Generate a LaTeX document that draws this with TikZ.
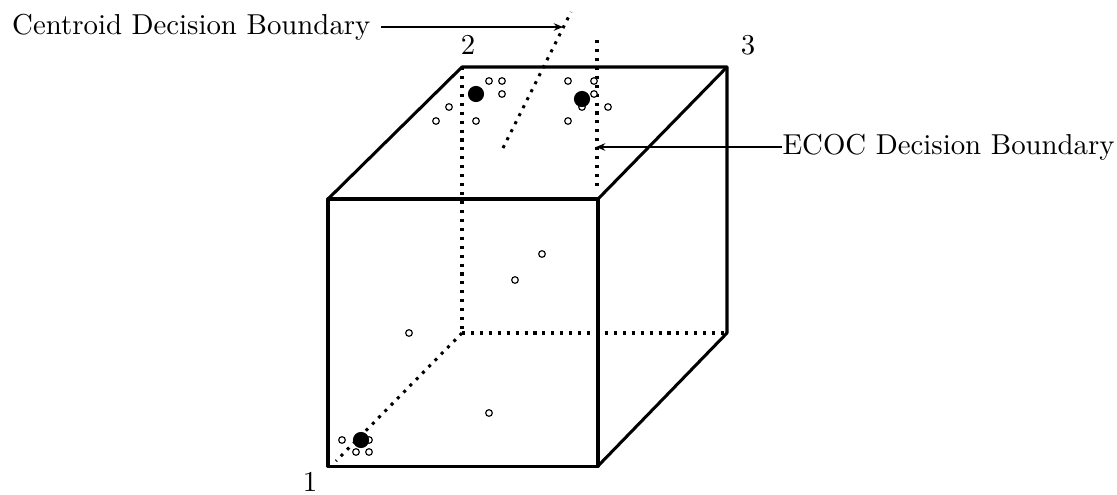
\documentclass[tikz,border=0pt]{standalone}
\usetikzlibrary{arrows.meta}
\begin{document}
\begin{tikzpicture}[x=0.347pt,y=-0.347pt,
  edge/.style={line width=1.05pt,line cap=round,line join=round},
  hidden/.style={line width=1.05pt,line cap=butt,dash pattern=on 1.05pt off 2.05pt},
  pointer/.style={line width=1pt,-{Stealth[length=3.2pt,width=2.6pt]}},
  sample/.style={circle,draw,line width=0.4pt,fill=white,inner sep=0pt,minimum size=2.3pt},
  centroid/.style={circle,fill=black,inner sep=0pt,minimum size=5.6pt},
  lbl/.style={font=\fontsize{10}{12}\selectfont,inner sep=0pt}]
\useasboundingbox (0,0) rectangle (1117,494);
% cube corners
\coordinate (f1) at (328,466);
\coordinate (f2) at (598,466);
\coordinate (f3) at (598,199);
\coordinate (f4) at (328,199);
\coordinate (b1) at (462,333);
\coordinate (b2) at (727,333);
\coordinate (b3) at (727,67);
\coordinate (b4) at (462,67);
% hidden edges
\draw[hidden] (b4) -- (b1);
\draw[hidden] (b1) -- (b2);
\draw[hidden] (b1) -- (336,461);
% visible edges
\draw[edge] (f1) -- (f2) -- (f3) -- (f4) -- cycle;
\draw[edge] (f4) -- (b4) -- (b3) -- (b2);
\draw[edge] (f3) -- (b3);
\draw[edge] (f2) -- (b2);
% decision boundaries
\coordinate (cb1) at (503,148);
\coordinate (cb2) at (571,12);
\draw[hidden] (cb1) -- (cb2);
\coordinate (eb1) at (597,40);
\coordinate (eb2) at (597,188);
\draw[hidden] (eb1) -- (eb2);
% samples
\foreach \p [count=\i] in {(489,81),(502,81),(502,94),(449,107),(436,121),(476,121),
  (568,81),(594,81),(594,94),(582,107),(608,107),(568,121),
  (542,254),(515,280),(409,333),(489,413),
  (342,440),(369,440),(356,452),(369,452)}
  \node[sample] (s\i) at \p {};
% centroids
\node[centroid] (c2) at (476,94) {};
\node[centroid] (c3) at (582,99) {};
\node[centroid] (c1) at (361,440) {};
% corner labels
\node[lbl] (l2) at (468,45) {2};
\node[lbl] (l3) at (748,45) {3};
\node[lbl] (l1) at (310,482) {1};
% boundary labels
\node[lbl,anchor=east] (tc) at (371,27) {Centroid Decision Boundary};
\node[lbl,anchor=west] (te) at (782,147) {ECOC Decision Boundary};
\coordinate (ca) at (563,27);
\coordinate (ea) at (596,147);
\draw[pointer] (tc.east) ++(10,0) -- (ca);
\draw[pointer] (te.west) -- (ea);
\end{tikzpicture}
\end{document}
